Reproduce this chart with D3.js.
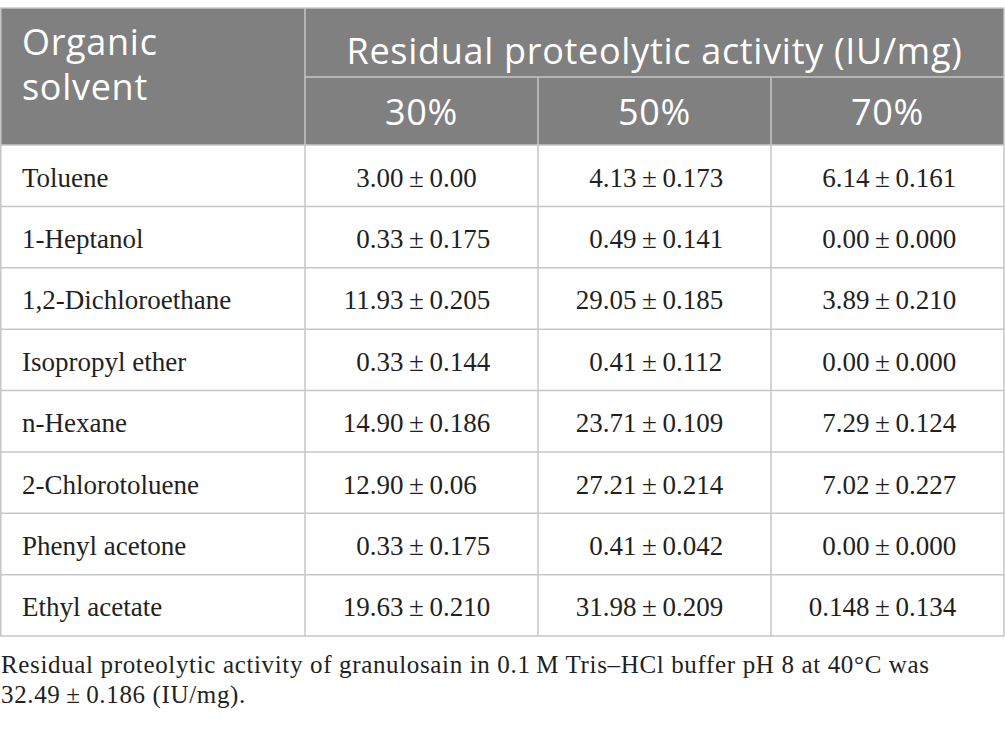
<!DOCTYPE html>
<html>
<head>
<script src="https://cdn.jsdelivr.net/npm/d3@7"></script>
<style>
  body { margin: 0; background: #fff; }
  .hdr { font-family: "Open Sans", "Noto Sans", sans-serif; fill: #fff; letter-spacing: 0.7px; }
  .cell { font-family: "Liberation Serif", "DejaVu Serif", serif; fill: #231f20; }
</style>
</head>
<body>
<div id="chart"></div>
<script>
// table content
var solvents = ["Toluene", "1-Heptanol", "1,2-Dichloroethane", "Isopropyl ether",
    "n-Hexane", "2-Chlorotoluene", "Phenyl acetone", "Ethyl acetate"];
var concentrations = ["30%", "50%", "70%"];
var mean30 = ["3.00", "0.33", "11.93", "0.33", "14.90", "12.90", "0.33", "19.63"];
var sd30   = ["0.00", "0.175", "0.205", "0.144", "0.186", "0.06", "0.175", "0.210"];
var mean50 = ["4.13", "0.49", "29.05", "0.41", "23.71", "27.21", "0.41", "31.98"];
var sd50   = ["0.173", "0.141", "0.185", "0.112", "0.109", "0.214", "0.042", "0.209"];
var mean70 = ["6.14", "0.00", "3.89", "0.00", "7.29", "7.02", "0.00", "0.148"];
var sd70   = ["0.161", "0.000", "0.210", "0.000", "0.124", "0.227", "0.000", "0.134"];
var headLeft = ["Organic", "solvent"];
var headTop = "Residual proteolytic activity (IU/mg)";
var footnote = ["Residual proteolytic activity of granulosain in 0.1\u2009M Tris\u2013HCl buffer pH 8 at 40\u00b0C was",
    "32.49\u2009\u00b1\u20090.186 (IU/mg)."];

var means = [mean30, mean50, mean70], sds = [sd30, sd50, sd70];

var W = 1005, H = 730;
var tLeft = 0, tRight = 1004, tTop = 8;
var head1 = 69, head2 = 68, bodyTop = tTop + head1 + head2, bodyBottom = 636;
var colEdges = [0, 305, 538, 771, 1004];
var pmOffset = 111.5;   // position of the ± sign inside each column
var pmGap = 13;
var grid = "#c6c6c6", headFill = "#808080";

var svg = d3.select("#chart").append("svg").attr("width", W).attr("height", H);

var y = d3.scaleBand().domain(d3.range(solvents.length)).range([bodyTop, bodyBottom]);
var colX = d3.scaleOrdinal().domain(concentrations).range(colEdges.slice(1, 4));
var rowBase = function(i) { return y(i) + y.bandwidth() / 2 + 11; };

// header block
svg.append("rect").attr("x", tLeft).attr("y", tTop)
    .attr("width", tRight - tLeft).attr("height", head1 + head2).attr("fill", headFill);

var lines = svg.append("g").attr("stroke", grid).attr("stroke-width", 1.5);
// horizontal rules
lines.append("line").attr("x1", tLeft).attr("x2", tRight).attr("y1", tTop).attr("y2", tTop);
lines.append("line").attr("x1", colEdges[1]).attr("x2", tRight)
    .attr("y1", tTop + head1).attr("y2", tTop + head1);
lines.selectAll(".hl").data(d3.range(solvents.length + 1)).join("line")
    .attr("x1", tLeft).attr("x2", tRight)
    .attr("y1", function(i) { return i < solvents.length ? y(i) : bodyBottom; })
    .attr("y2", function(i) { return i < solvents.length ? y(i) : bodyBottom; });
// vertical rules
lines.append("line").attr("x1", tLeft + 0.75).attr("x2", tLeft + 0.75).attr("y1", tTop).attr("y2", bodyBottom);
lines.append("line").attr("x1", tRight).attr("x2", tRight).attr("y1", tTop).attr("y2", bodyBottom);
lines.append("line").attr("x1", colEdges[1]).attr("x2", colEdges[1]).attr("y1", tTop).attr("y2", bodyBottom);
lines.selectAll(".vl").data(concentrations.slice(1)).join("line")
    .attr("x1", function(d) { return colX(d); }).attr("x2", function(d) { return colX(d); })
    .attr("y1", tTop + head1).attr("y2", bodyBottom);

// header text
svg.append("text").attr("class", "hdr").attr("font-size", 36)
    .selectAll("tspan").data(headLeft).join("tspan")
    .attr("x", 22).attr("y", function(d, i) { return 55 + i * 45; })
    .text(function(d) { return d; });
svg.append("text").attr("class", "hdr").attr("font-size", 36)
    .attr("x", (colEdges[1] + tRight) / 2).attr("y", 64).attr("text-anchor", "middle")
    .text(headTop);
svg.selectAll(".conc").data(concentrations).join("text")
    .attr("class", "hdr").attr("font-size", 36).attr("text-anchor", "middle")
    .attr("x", function(d, i) { return (colEdges[i + 1] + colEdges[i + 2]) / 2; })
    .attr("y", 125)
    .text(function(d) { return d; });

// body
svg.selectAll(".solv").data(solvents).join("text")
    .attr("class", "cell").attr("font-size", 27)
    .attr("x", 22).attr("y", function(d, i) { return rowBase(i); })
    .text(function(d) { return d; });

concentrations.forEach(function(c, ci) {
    var pm = colX(c) + pmOffset;
    var g = svg.append("g").attr("class", "cell").attr("font-size", 27);
    g.selectAll(".m").data(means[ci]).join("text")
        .attr("x", pm - pmGap).attr("text-anchor", "end")
        .attr("y", function(d, i) { return rowBase(i); })
        .text(function(d) { return d; });
    g.selectAll(".p").data(means[ci]).join("text")
        .attr("x", pm).attr("text-anchor", "middle")
        .attr("y", function(d, i) { return rowBase(i); })
        .text("\u00b1");
    g.selectAll(".s").data(sds[ci]).join("text")
        .attr("x", pm + pmGap)
        .attr("y", function(d, i) { return rowBase(i); })
        .text(function(d) { return d; });
});

// footnote
svg.append("text").attr("class", "cell").attr("font-size", 25).attr("letter-spacing", 0.65)
    .selectAll("tspan").data(footnote).join("tspan")
    .attr("x", 1).attr("y", function(d, i) { return 673 + i * 30; })
    .text(function(d) { return d; });
</script>
</body>
</html>
